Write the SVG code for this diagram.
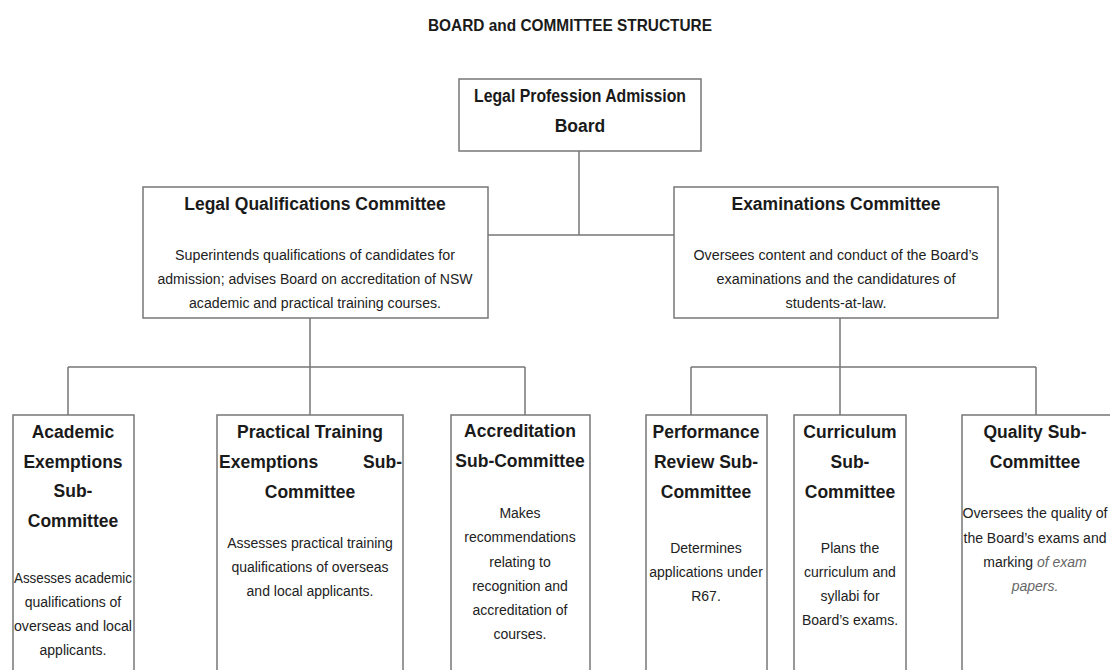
<svg xmlns="http://www.w3.org/2000/svg" width="1110" height="670" viewBox="0 0 1110 670">
<style>
.box{fill:#fff;stroke:#777;stroke-width:1.5}
.ln{fill:none;stroke:#777;stroke-width:1.5}
.t{font-family:"Liberation Sans",Arial,sans-serif;font-weight:bold;font-size:17.5px;fill:#1a1a1a;text-anchor:middle}
.d{font-family:"Liberation Sans",Arial,sans-serif;font-size:14px;fill:#222;text-anchor:middle}
.i{font-style:italic;fill:#666}
.h{font-family:"Liberation Sans",Arial,sans-serif;font-weight:bold;font-size:16.5px;fill:#1a1a1a;text-anchor:middle}
</style>
<rect width="1110" height="670" fill="#fff"/>
<text class="h" x="570" y="31" textLength="284" lengthAdjust="spacingAndGlyphs">BOARD and COMMITTEE STRUCTURE</text>
<g id="connectors">
<path class="ln" d="M579 151V235M488 235H674"/>
<path class="ln" d="M310 318V367M68 367H525M68 367V415M310 367V415M525 367V415"/>
<path class="ln" d="M840 318V367M691 367H1036M691 367V415M840 367V415M1036 367V415"/>
</g>
<g id="board">
<rect class="box" x="459" y="79" width="242" height="72"/>
<text class="t" x="580" y="102" textLength="212" lengthAdjust="spacingAndGlyphs">Legal Profession Admission</text>
<text class="t" x="580" y="132">Board</text>
</g>
<g id="lqc">
<rect class="box" x="143" y="187" width="345" height="131"/>
<text class="t" x="315" y="210">Legal Qualifications Committee</text>
<text class="d" x="315" y="260" textLength="280" lengthAdjust="spacingAndGlyphs">Superintends qualifications of candidates for</text>
<text class="d" x="315" y="284" textLength="315" lengthAdjust="spacingAndGlyphs">admission; advises Board on accreditation of NSW</text>
<text class="d" x="315" y="308" textLength="252" lengthAdjust="spacingAndGlyphs">academic and practical training courses.</text>
</g>
<g id="exam">
<rect class="box" x="674" y="187" width="324" height="131"/>
<text class="t" x="836" y="210">Examinations Committee</text>
<text class="d" x="836" y="260" textLength="285" lengthAdjust="spacingAndGlyphs">Oversees content and conduct of the Board’s</text>
<text class="d" x="836" y="284" textLength="239" lengthAdjust="spacingAndGlyphs">examinations and the candidatures of</text>
<text class="d" x="836" y="308" textLength="101" lengthAdjust="spacingAndGlyphs">students-at-law.</text>
</g>
<g id="academic">
<rect class="box" x="13" y="415" width="121" height="290"/>
<text class="t" x="73" y="438">Academic</text>
<text class="t" x="73" y="468">Exemptions</text>
<text class="t" x="73" y="497">Sub-</text>
<text class="t" x="73" y="527">Committee</text>
<text class="d" x="73" y="583" textLength="118" lengthAdjust="spacingAndGlyphs">Assesses academic</text>
<text class="d" x="73" y="607">qualifications of</text>
<text class="d" x="73" y="631" textLength="118" lengthAdjust="spacingAndGlyphs">overseas and local</text>
<text class="d" x="73" y="655">applicants.</text>
</g>
<g id="practical">
<rect class="box" x="217" y="415" width="186" height="290"/>
<text class="t" x="310" y="438">Practical Training</text>
<text class="t" x="219" y="468" style="text-anchor:start">Exemptions</text>
<text class="t" x="402" y="468" style="text-anchor:end">Sub-</text>
<text class="t" x="310" y="498">Committee</text>
<text class="d" x="310" y="548">Assesses practical training</text>
<text class="d" x="310" y="572">qualifications of overseas</text>
<text class="d" x="310" y="596">and local applicants.</text>
</g>
<g id="accreditation">
<rect class="box" x="451" y="415" width="139" height="290"/>
<text class="t" x="520" y="437">Accreditation</text>
<text class="t" x="520" y="467">Sub-Committee</text>
<text class="d" x="520" y="518">Makes</text>
<text class="d" x="520" y="542">recommendations</text>
<text class="d" x="520" y="567">relating to</text>
<text class="d" x="520" y="591">recognition and</text>
<text class="d" x="520" y="615">accreditation of</text>
<text class="d" x="520" y="639">courses.</text>
</g>
<g id="performance">
<rect class="box" x="646" y="415" width="121" height="290"/>
<text class="t" x="706" y="438">Performance</text>
<text class="t" x="706" y="468">Review Sub-</text>
<text class="t" x="706" y="498">Committee</text>
<text class="d" x="706" y="553">Determines</text>
<text class="d" x="706" y="577">applications under</text>
<text class="d" x="706" y="601">R67.</text>
</g>
<g id="curriculum">
<rect class="box" x="794" y="415" width="112" height="290"/>
<text class="t" x="850" y="438">Curriculum</text>
<text class="t" x="850" y="468">Sub-</text>
<text class="t" x="850" y="498">Committee</text>
<text class="d" x="850" y="553">Plans the</text>
<text class="d" x="850" y="577">curriculum and</text>
<text class="d" x="850" y="601">syllabi for</text>
<text class="d" x="850" y="625">Board’s exams.</text>
</g>
<g id="quality">
<rect class="box" x="962" y="415" width="170" height="290"/>
<text class="t" x="1035" y="438">Quality Sub-</text>
<text class="t" x="1035" y="468">Committee</text>
<text class="d" x="1035" y="518" textLength="145" lengthAdjust="spacingAndGlyphs">Oversees the quality of</text>
<text class="d" x="1035" y="543">the Board’s exams and</text>
<text class="d" x="1035" y="567">marking <tspan class="i">of exam</tspan></text>
<text class="d i" x="1035" y="591">papers.</text>
</g>
</svg>
